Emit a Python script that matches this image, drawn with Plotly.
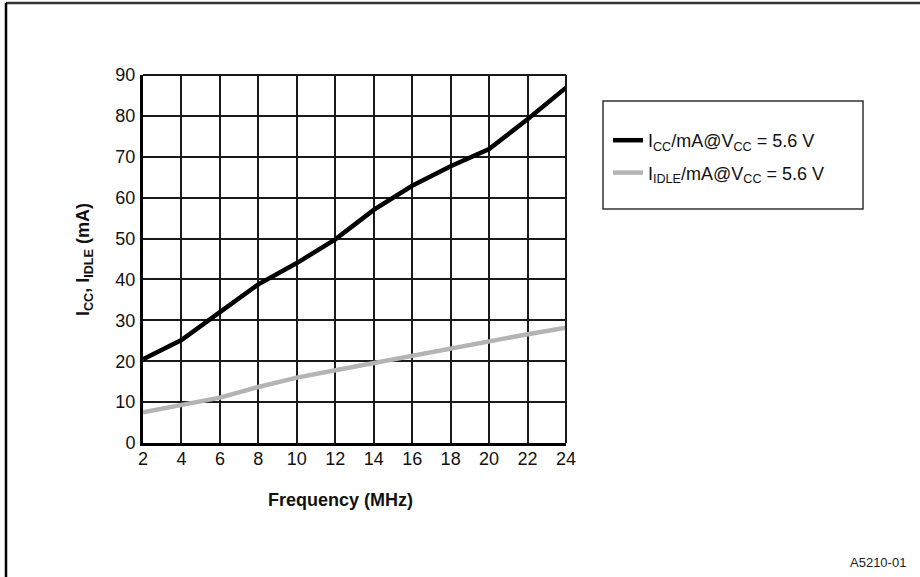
import plotly.graph_objects as go

freq_mhz = [2, 4, 6, 8, 10, 12, 14, 16, 18, 20, 22, 24]
icc_ma = [20.5, 25.2, 32.0, 38.8, 44.0, 49.8, 57.0, 62.9, 67.7, 71.9, 79.2, 86.9]
iidle_ma = [7.5, 9.4, 11.1, 13.7, 16.0, 17.8, 19.6, 21.2, 23.0, 24.8, 26.6, 28.2]

icc_label = "I<sub>CC</sub>/mA@V<sub>CC</sub> = 5.6 V"
iidle_label = "I<sub>IDLE</sub>/mA@V<sub>CC</sub> = 5.6 V"
x_ticks = list(range(2, 25, 2))
y_ticks = list(range(0, 91, 10))

FONT = "Liberation Sans, Arial, sans-serif"
W, H = 920, 577
L, R, T, B = 143, 566, 75, 443  # plot area in px


def px(x):
    return (x - L) / (R - L)


def py(y):
    return (B - y) / (B - T)


fig = go.Figure()
fig.add_trace(go.Scatter(x=freq_mhz, y=icc_ma, mode="lines", name=icc_label,
                         legendgroup="a",
                         line=dict(color="black", width=4.5), cliponaxis=False))
fig.add_trace(go.Scatter(x=freq_mhz, y=iidle_ma, mode="lines", name=iidle_label,
                         legendgroup="b",
                         line=dict(color="#b4b4b4", width=4.5), cliponaxis=False))

fig.update_layout(
    width=W, height=H,
    margin=dict(l=L, r=W - R, t=T, b=H - B, pad=0),
    paper_bgcolor="white", plot_bgcolor="white",
    font=dict(family=FONT, color="#111", size=18),
    showlegend=True,
    legend=dict(x=px(608), y=py(122), xanchor="left", yanchor="top",
                bgcolor="rgba(0,0,0,0)", borderwidth=0,
                font=dict(size=18, family=FONT, color="#111"),
                itemwidth=30, tracegroupgap=6),
    xaxis=dict(range=[2, 24], tickvals=x_ticks, ticktext=[str(v) for v in x_ticks],
               showgrid=True, gridcolor="#1a1a1a", gridwidth=1.5,
               showline=True, linecolor="black", linewidth=3,
               ticks="", zeroline=False, tickfont=dict(size=18, family=FONT),
               ticklabelstandoff=-3),
    yaxis=dict(range=[0, 90], tickvals=y_ticks, ticktext=[str(v) for v in y_ticks],
               showgrid=True, gridcolor="#1a1a1a", gridwidth=1.5,
               showline=True, linecolor="black", linewidth=3,
               ticks="", zeroline=False, tickfont=dict(size=18, family=FONT),
               ticklabelstandoff=1),
)

shapes = [
    # outer frame (top and left)
    dict(type="line", xref="paper", yref="paper", x0=px(6), x1=px(925), y0=py(3), y1=py(3),
         line=dict(color="#333", width=2.5)),
    dict(type="line", xref="paper", yref="paper", x0=px(6), x1=px(6), y0=py(3), y1=py(580),
         line=dict(color="black", width=2.5)),
    # top/right plot borders
    dict(type="line", xref="paper", yref="paper", x0=0, x1=1, y0=1, y1=1,
         line=dict(color="#1a1a1a", width=2)),
    dict(type="line", xref="paper", yref="paper", x0=1, x1=1, y0=0, y1=1,
         line=dict(color="#1a1a1a", width=2)),
    # legend box
    dict(type="rect", xref="paper", yref="paper", x0=px(603), x1=px(863), y0=py(101), y1=py(209),
         line=dict(color="#333", width=1.5), fillcolor="rgba(0,0,0,0)"),
]
fig.update_layout(shapes=shapes)

annotations = [
    dict(text="<b>I<sub>CC</sub>, I<sub>IDLE</sub> (mA)</b>", xref="paper", yref="paper",
         x=px(84), y=py(260), textangle=-90, showarrow=False,
         font=dict(size=18, family=FONT, color="#111"), xanchor="center", yanchor="middle"),
    dict(text="<b>Frequency (MHz)</b>", xref="paper", yref="paper",
         x=px(340), y=py(500), showarrow=False,
         font=dict(size=18, family=FONT, color="#111"), xanchor="center", yanchor="middle"),
    dict(text="A5210-01", xref="paper", yref="paper",
         x=px(908), y=py(562), showarrow=False,
         font=dict(size=13, family=FONT, color="#222"), xanchor="right", yanchor="middle"),
]
fig.update_layout(annotations=annotations)

fig.write_html("out.html", config={"displayModeBar": False},
               post_script="document.body.style.margin='0';document.body.style.padding='0';")
